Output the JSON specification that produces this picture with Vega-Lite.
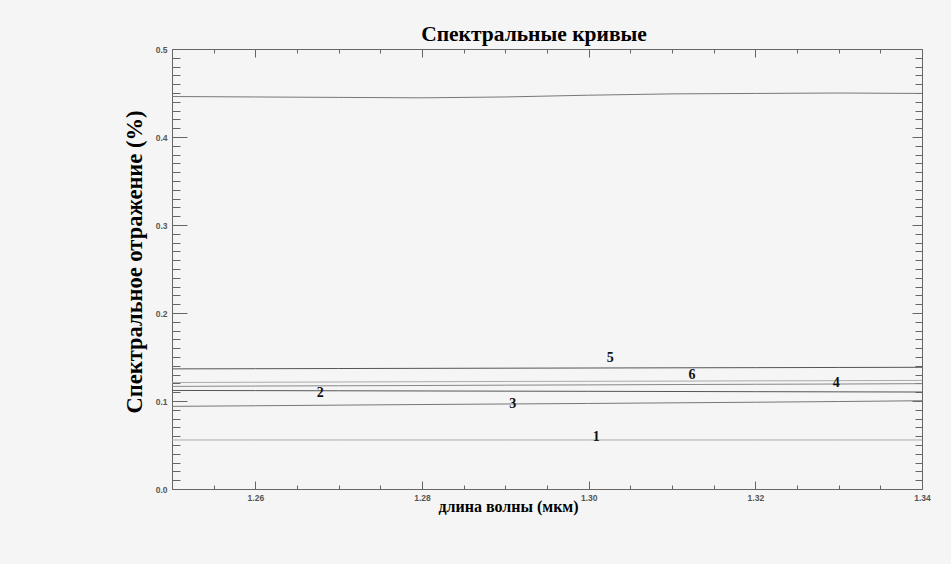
{
  "$schema": "https://vega.github.io/schema/vega-lite/v6.json",
  "width": 750,
  "height": 440,
  "autosize": "none",
  "padding": {"left": 172, "top": 49, "right": 29, "bottom": 75},
  "background": "#f5f5f5",
  "config": {"view": {"stroke": null}},
  "title": {"text": "Спектральные кривые", "font": "Liberation Serif", "fontSize": 21.5, "fontWeight": "bold", "color": "#000", "anchor": "middle", "dx": -13, "baseline": "alphabetic", "offset": -17},
  "datasets": {
    "curves": [
      {"curve": "0", "wl": 1.25, "refl": 0.446}, {"curve": "0", "wl": 1.26, "refl": 0.4455}, {"curve": "0", "wl": 1.27, "refl": 0.445}, {"curve": "0", "wl": 1.28, "refl": 0.4445}, {"curve": "0", "wl": 1.29, "refl": 0.4455}, {"curve": "0", "wl": 1.30, "refl": 0.4475}, {"curve": "0", "wl": 1.31, "refl": 0.449}, {"curve": "0", "wl": 1.32, "refl": 0.4495}, {"curve": "0", "wl": 1.33, "refl": 0.450}, {"curve": "0", "wl": 1.34, "refl": 0.4495},
      {"curve": "5", "wl": 1.25, "refl": 0.1365}, {"curve": "5", "wl": 1.26, "refl": 0.1367}, {"curve": "5", "wl": 1.27, "refl": 0.1369}, {"curve": "5", "wl": 1.28, "refl": 0.1371}, {"curve": "5", "wl": 1.29, "refl": 0.1373}, {"curve": "5", "wl": 1.30, "refl": 0.1375}, {"curve": "5", "wl": 1.31, "refl": 0.1377}, {"curve": "5", "wl": 1.32, "refl": 0.1379}, {"curve": "5", "wl": 1.33, "refl": 0.1381}, {"curve": "5", "wl": 1.34, "refl": 0.1383},
      {"curve": "6", "wl": 1.25, "refl": 0.121}, {"curve": "6", "wl": 1.26, "refl": 0.1213}, {"curve": "6", "wl": 1.27, "refl": 0.1216}, {"curve": "6", "wl": 1.28, "refl": 0.1219}, {"curve": "6", "wl": 1.29, "refl": 0.1222}, {"curve": "6", "wl": 1.30, "refl": 0.1224}, {"curve": "6", "wl": 1.31, "refl": 0.1226}, {"curve": "6", "wl": 1.32, "refl": 0.1229}, {"curve": "6", "wl": 1.33, "refl": 0.1231}, {"curve": "6", "wl": 1.34, "refl": 0.1234},
      {"curve": "4", "wl": 1.25, "refl": 0.1166}, {"curve": "4", "wl": 1.26, "refl": 0.117}, {"curve": "4", "wl": 1.27, "refl": 0.1173}, {"curve": "4", "wl": 1.28, "refl": 0.1176}, {"curve": "4", "wl": 1.29, "refl": 0.118}, {"curve": "4", "wl": 1.30, "refl": 0.1183}, {"curve": "4", "wl": 1.31, "refl": 0.1187}, {"curve": "4", "wl": 1.32, "refl": 0.119}, {"curve": "4", "wl": 1.33, "refl": 0.1193}, {"curve": "4", "wl": 1.34, "refl": 0.1197},
      {"curve": "2", "wl": 1.25, "refl": 0.112}, {"curve": "2", "wl": 1.26, "refl": 0.1118}, {"curve": "2", "wl": 1.27, "refl": 0.1116}, {"curve": "2", "wl": 1.28, "refl": 0.1114}, {"curve": "2", "wl": 1.29, "refl": 0.1112}, {"curve": "2", "wl": 1.30, "refl": 0.111}, {"curve": "2", "wl": 1.31, "refl": 0.1108}, {"curve": "2", "wl": 1.32, "refl": 0.1106}, {"curve": "2", "wl": 1.33, "refl": 0.1104}, {"curve": "2", "wl": 1.34, "refl": 0.1102},
      {"curve": "3", "wl": 1.25, "refl": 0.0939}, {"curve": "3", "wl": 1.26, "refl": 0.0946}, {"curve": "3", "wl": 1.27, "refl": 0.0953}, {"curve": "3", "wl": 1.28, "refl": 0.096}, {"curve": "3", "wl": 1.29, "refl": 0.0966}, {"curve": "3", "wl": 1.30, "refl": 0.0972}, {"curve": "3", "wl": 1.31, "refl": 0.0979}, {"curve": "3", "wl": 1.32, "refl": 0.0986}, {"curve": "3", "wl": 1.33, "refl": 0.0994}, {"curve": "3", "wl": 1.34, "refl": 0.1003},
      {"curve": "1", "wl": 1.25, "refl": 0.0557}, {"curve": "1", "wl": 1.26, "refl": 0.0557}, {"curve": "1", "wl": 1.27, "refl": 0.0557}, {"curve": "1", "wl": 1.28, "refl": 0.0557}, {"curve": "1", "wl": 1.29, "refl": 0.0557}, {"curve": "1", "wl": 1.30, "refl": 0.0557}, {"curve": "1", "wl": 1.31, "refl": 0.0557}, {"curve": "1", "wl": 1.32, "refl": 0.0557}, {"curve": "1", "wl": 1.33, "refl": 0.0557}, {"curve": "1", "wl": 1.34, "refl": 0.0557}
    ],
    "labels": [
      {"label": "1", "wl": 1.3009, "refl": 0.0594},
      {"label": "2", "wl": 1.2678, "refl": 0.1094},
      {"label": "3", "wl": 1.2909, "refl": 0.0969},
      {"label": "4", "wl": 1.3297, "refl": 0.1208},
      {"label": "5", "wl": 1.3026, "refl": 0.1492},
      {"label": "6", "wl": 1.3124, "refl": 0.1299}
    ]
  },
  "layer": [
    {
      "data": {"name": "curves"},
      "mark": {"type": "line", "strokeWidth": 1},
      "encoding": {
        "x": {
          "field": "wl", "type": "quantitative",
          "scale": {"domain": [1.25, 1.34], "nice": false, "zero": false},
          "axis": {
            "orient": "bottom", "grid": false,
            "values": [1.25, 1.255, 1.26, 1.265, 1.27, 1.275, 1.28, 1.285, 1.29, 1.295, 1.3, 1.305, 1.31, 1.315, 1.32, 1.325, 1.33, 1.335, 1.34],
            "labelExpr": "abs(datum.value*50-round(datum.value*50))<0.001 ? format(datum.value, '.2f') : ''",
            "tickSize": {"condition": {"test": "abs(datum.value*50-round(datum.value*50))<0.001", "value": -8}, "value": -4},
            "labelPadding": 12, "labelFlush": false, "labelOverlap": false,
            "domainColor": "#666", "tickColor": "#666",
            "labelFont": "Liberation Sans", "labelFontSize": 8.5, "labelFontWeight": "bold", "labelColor": "#555",
            "title": "длина волны (мкм)", "titleFont": "Liberation Serif", "titleFontSize": 16, "titleFontWeight": "bold", "titleColor": "#000",
            "titleX": 336, "titleY": 22, "titleBaseline": "alphabetic", "titleAlign": "center"
          }
        },
        "y": {
          "field": "refl", "type": "quantitative",
          "scale": {"domain": [0, 0.5], "nice": false},
          "axis": {
            "orient": "left", "grid": false,
            "values": [0, 0.01, 0.02, 0.03, 0.04, 0.05, 0.06, 0.07, 0.08, 0.09, 0.1, 0.11, 0.12, 0.13, 0.14, 0.15, 0.16, 0.17, 0.18, 0.19, 0.2, 0.21, 0.22, 0.23, 0.24, 0.25, 0.26, 0.27, 0.28, 0.29, 0.3, 0.31, 0.32, 0.33, 0.34, 0.35, 0.36, 0.37, 0.38, 0.39, 0.4, 0.41, 0.42, 0.43, 0.44, 0.45, 0.46, 0.47, 0.48, 0.49, 0.5],
            "labelExpr": "abs(datum.value*10-round(datum.value*10))<0.001 ? format(datum.value, '.1f') : ''",
            "tickSize": {"condition": {"test": "abs(datum.value*10-round(datum.value*10))<0.001", "value": -15}, "value": -8},
            "labelPadding": 20, "labelFlush": false, "labelOverlap": false,
            "domainColor": "#666", "tickColor": "#666",
            "labelFont": "Liberation Sans", "labelFontSize": 8.5, "labelFontWeight": "bold", "labelColor": "#555",
            "title": "Спектральное отражение (%)", "titleFont": "Liberation Serif", "titleFontSize": 22.5, "titleFontWeight": "bold", "titleColor": "#000",
            "titleX": -38, "titleY": 212.5, "titleAngle": 270, "titleBaseline": "middle", "titleAlign": "center"
          }
        },
        "color": {
          "field": "curve", "type": "nominal",
          "scale": {"domain": ["0", "5", "6", "4", "2", "3", "1"], "range": ["#777", "#555", "#aaa", "#888", "#555", "#777", "#aaa"]},
          "legend": null
        }
      }
    },
    {
      "data": {"name": "labels"},
      "mark": {"type": "text", "font": "Liberation Serif", "fontWeight": "bold", "fontSize": 14, "color": "#111"},
      "encoding": {
        "x": {
          "field": "wl", "type": "quantitative",
          "axis": {
            "orient": "top", "grid": false, "labels": false, "title": null,
            "values": [1.25, 1.255, 1.26, 1.265, 1.27, 1.275, 1.28, 1.285, 1.29, 1.295, 1.3, 1.305, 1.31, 1.315, 1.32, 1.325, 1.33, 1.335, 1.34],
            "tickSize": {"condition": {"test": "abs(datum.value*50-round(datum.value*50))<0.001", "value": -8}, "value": -4},
            "domainColor": "#666", "tickColor": "#666"
          }
        },
        "y": {
          "field": "refl", "type": "quantitative",
          "axis": {
            "orient": "right", "grid": false, "labels": false, "title": null,
            "values": [0, 0.01, 0.02, 0.03, 0.04, 0.05, 0.06, 0.07, 0.08, 0.09, 0.1, 0.11, 0.12, 0.13, 0.14, 0.15, 0.16, 0.17, 0.18, 0.19, 0.2, 0.21, 0.22, 0.23, 0.24, 0.25, 0.26, 0.27, 0.28, 0.29, 0.3, 0.31, 0.32, 0.33, 0.34, 0.35, 0.36, 0.37, 0.38, 0.39, 0.4, 0.41, 0.42, 0.43, 0.44, 0.45, 0.46, 0.47, 0.48, 0.49, 0.5],
            "tickSize": {"condition": {"test": "abs(datum.value*10-round(datum.value*10))<0.001", "value": -10}, "value": -7},
            "domainColor": "#666", "tickColor": "#666"
          }
        },
        "text": {"field": "label", "type": "nominal"}
      }
    }
  ],
  "resolve": {"axis": {"x": "independent", "y": "independent"}}
}
